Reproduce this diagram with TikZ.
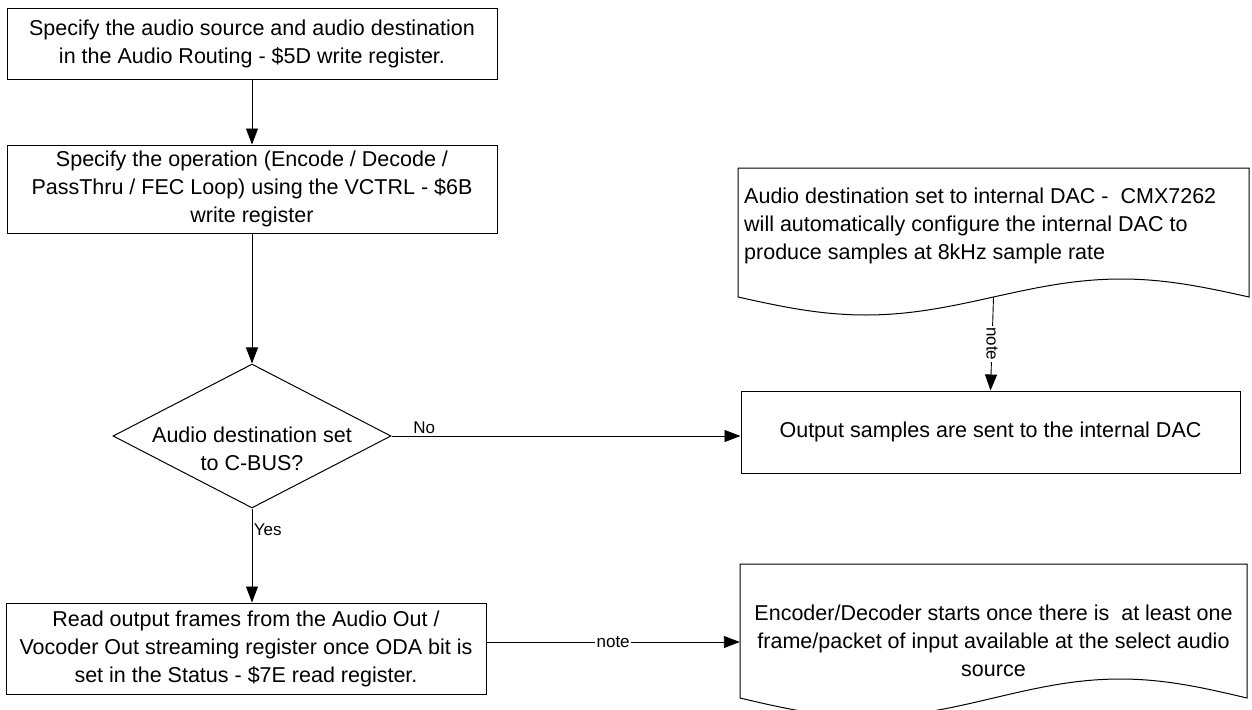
\documentclass[tikz,border=0pt]{standalone}
\usepackage{fontspec}
\setmainfont{Liberation Sans}
\usetikzlibrary{arrows.meta,shapes.geometric,calc}
\newcommand\mainfs{\fontsize{21.5}{28}\selectfont}
\newcommand\labfs{\fontsize{17}{20}\selectfont}
\begin{document}
\begin{tikzpicture}[x=1pt,y=-1pt,
  box/.style={draw, line width=1pt, inner sep=0pt, align=center, font=\mainfs},
  docbox/.style={inner sep=0pt},
  outline/.style={draw, line width=1pt},
  arr/.style={line width=0.9pt, -{Triangle[length=16pt,width=12pt]}},
  lab/.style={font=\labfs, inner sep=1.5pt},
]
\useasboundingbox (0,0) rectangle (1252,709);

% process boxes
\node[box, minimum width=490pt, minimum height=70pt] (b1) at (252,44)
  {Specify the audio source and audio destination\\in the Audio Routing - \$5D write register.};
\node[box, minimum width=490pt, minimum height=88pt] (b2) at (252,189)
  {Specify the operation (Encode / Decode /\\PassThru / FEC Loop) using the VCTRL - \$6B\\write register};
\node[draw, diamond, line width=1pt, inner sep=0pt, minimum width=278pt, minimum height=144pt] (dec) at (252,436) {};
\node[font=\mainfs, align=center, inner sep=0pt] (dect) at (252,449) {Audio destination set\\to C-BUS?};
\node[box, minimum width=499pt, minimum height=82pt] (out) at (990.5,432)
  {Output samples are sent to the internal DAC};
\node[box, minimum width=480pt, minimum height=91pt] (b3) at (246,648.5)
  {Read output frames from the Audio Out /\\Vocoder Out streaming register once ODA bit is\\set in the Status - \$7E read register.};

% document shapes
\node[docbox, minimum width=511pt, minimum height=129pt] (d1) at (993.5,232.5) {};
\draw[outline] (738,297) -- (738,168) -- (1249,168) -- (1249,297)
  -- plot[domain=1:0, samples=61, smooth] ({738+511*\x},{297+18*sin(360*\x)}) -- cycle;
\node[font=\mainfs, align=left, anchor=west, inner sep=0pt] (d1t) at (744,226)
  {Audio destination set to internal DAC - \ CMX7262\\will automatically configure the internal DAC to\\produce samples at 8kHz sample rate};

\node[docbox, minimum width=507pt, minimum height=134pt] (d2) at (993.5,631) {};
\draw[outline] (740,698) -- (740,564) -- (1247,564) -- (1247,698)
  -- plot[domain=1:0, samples=61, smooth] ({740+507*\x},{698+19*sin(360*\x)}) -- cycle;
\node[font=\mainfs, align=center, inner sep=0pt] (d2t) at (993.5,641)
  {Encoder/Decoder starts once there is \ at least one\\frame/packet of input available at the select audio\\source};

% connectors
\draw[arr] (b1) -- (b2);
\draw[arr] (b2) -- (dec);
\draw[arr] (dec.east) -- node[lab, above, pos=0.094] {No} (dec.east -| out.west);
\draw[arr] (dec.south) -- node[lab, right, pos=0.23] {Yes} (dec.south |- b3.north);
\draw[arr] (d1.south) -- node[lab, fill=white, rotate=-90] {note} (out.north);
\draw[arr] ([yshift=6.5pt]b3.east) -- node[lab, fill=white] {note} ([yshift=6.5pt]b3.east -| d2.west);
\end{tikzpicture}
\end{document}
